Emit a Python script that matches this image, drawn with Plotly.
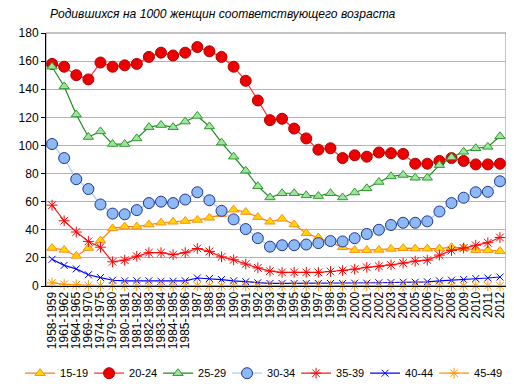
import plotly.graph_objects as go

categories = ["1958-1959", "1961-1962", "1964-1965", "1969-1970", "1974-1975", "1979-1980",
              "1980-1981", "1981-1982", "1982-1983", "1983-1984", "1984-1985", "1985-1986"] + \
             [str(y) for y in range(1987, 2013)]

s15_19 = [27, 25.7, 21.4, 27, 32.4, 41, 42.3, 42.3, 43.7, 45, 45.7, 46.2, 47, 48.5, 51, 54.3, 52.6, 49,
          45.7, 47.8, 43.7, 37.5, 34.5, 31, 27.6, 25.5, 25.5, 25.7, 26.4, 26.9, 26.6, 26.6, 26.6, 27.6,
          27, 25.5, 25.5, 24.8]
s20_24 = [158, 156, 150, 147, 159, 156, 157, 158, 163, 166, 164, 166, 170, 167, 163, 156, 146, 132,
          118, 119, 112, 105, 97, 98, 91, 93, 92, 95, 94.5, 94, 87, 87, 89, 91, 89, 86.5, 86.5, 87]
s25_29 = [156, 142, 122, 106, 110, 101, 101, 105, 113, 114.5, 113, 117, 121, 113.5, 102, 92, 82, 71,
          63, 66, 66, 64.5, 64, 66, 63, 66.5, 69.5, 74, 78, 79, 77, 77, 86, 91.5, 95.5, 98, 99, 106.5]
s30_34 = [101, 91, 76, 69, 58, 51.5, 51, 54, 59, 60, 59, 61.5, 66.7, 61, 53.5, 47.4, 40.5, 34, 28,
          29, 29, 29.5, 30.5, 32, 31.7, 34, 37, 40, 43.4, 45, 45, 46, 53, 59, 62.8, 66.7, 67, 74.5]
s35_39 = [57.5, 46.4, 38.4, 31.7, 27.6, 17.2, 18.4, 21.2, 23.7, 23.7, 22.3, 23.7, 26.7, 24.6, 20.7,
          18.6, 15.6, 12.9, 10.6, 9.7, 9.7, 9.7, 9.7, 10.3, 11, 12, 13.3, 14, 15, 16.3, 17.7, 18.4,
          22, 25.3, 27, 29, 30.8, 34.5]
s40_44 = [19, 14.7, 12.2, 8, 6, 4.1, 3.7, 3.7, 3.7, 3.4, 3.4, 3.7, 5.7, 5.3, 4.6, 3.7, 3, 2.3, 1.8,
          1.8, 1.8, 1.8, 1.8, 1.8, 1.8, 2, 2, 2.3, 2.5, 2.7, 2.7, 3, 3.7, 4.1, 4.6, 5.3, 5.7, 6.4]
s45_49 = [2.3, 1.2, 0.9, 0.4, 0.3, 0.2, 0.2, 0.2, 0.2, 0.2, 0.2, 0.2, 0.2, 0.2, 0.2, 0.2, 0.2, 0.2,
          0.2, 0.2, 0.2, 0.2, 0.2, 0.2, 0.2, 0.2, 0.2, 0.2, 0.2, 0.2, 0.2, 0.2, 0.2, 0.2, 0.2, 0.2,
          0.2, 0.2]

y_ticks = [0, 20, 40, 60, 80, 100, 120, 140, 160, 180]

series = [
    ("15-19", s15_19, dict(line=dict(color="#FF7A1A", width=1.2),
                           marker=dict(symbol="triangle-up", size=9, color="#FFD700",
                                       line=dict(color="#FF8C1A", width=1)))),
    ("20-24", s20_24, dict(line=dict(color="#FF3030", width=1.2),
                           marker=dict(symbol="circle", size=11, color="#EE0000",
                                       line=dict(color="#B00000", width=1)))),
    ("25-29", s25_29, dict(line=dict(color="#1E8C1E", width=1.2),
                           marker=dict(symbol="triangle-up", size=9, color="#9FE39F",
                                       line=dict(color="#2E9A2E", width=1)))),
    ("30-34", s30_34, dict(line=dict(color="#A9CFF5", width=1.2),
                           marker=dict(symbol="circle", size=11, color="#8DB9F5",
                                       line=dict(color="#1F3590", width=1)))),
    ("35-39", s35_39, dict(line=dict(color="#FF1A1A", width=1.2),
                           marker=dict(symbol="asterisk-open", size=9, color="#FF0000",
                                       line=dict(color="#FF0000", width=1)))),
    ("40-44", s40_44, dict(line=dict(color="#0000FF", width=1.2),
                           marker=dict(symbol="x-thin-open", size=7, color="#0000FF",
                                       line=dict(color="#0000FF", width=1)))),
    ("45-49", s45_49, dict(line=dict(color="#FF9900", width=1.2),
                           marker=dict(symbol="asterisk-open", size=9, color="#FF9900",
                                       line=dict(color="#FF9900", width=1)))),
]

fig = go.Figure()
for name, vals, style in series:
    fig.add_trace(go.Scatter(x=categories, y=vals, name=name, mode="lines+markers",
                             cliponaxis=False, **style))

L, R, T, B = 37, 16, 25, 106
pw, ph = 514 - L - R, 392 - T - B

fig.update_layout(
    width=514, height=392,
    margin=dict(l=L, r=R, t=T, b=B),
    paper_bgcolor="white", plot_bgcolor="white",
    font=dict(family="Liberation Sans, Arial", size=11, color="black"),
    title=dict(text="<i>Родившихся на 1000 женщин соответствующего возраста</i>",
               x=42 / 514, xanchor="left", y=1 - 6 / 392, yanchor="middle",
               font=dict(size=12.1, color="black")),
    showlegend=True,
    legend=dict(orientation="h", xref="paper", yref="paper",
                x=(11 - L) / pw, xanchor="left", y=-(361 - T - ph) / ph, yanchor="top",
                font=dict(size=11), entrywidth=24, entrywidthmode="pixels",
                itemwidth=30, tracegroupgap=0, bgcolor="rgba(0,0,0,0)"),
    shapes=[dict(type="rect", xref="paper", yref="paper", x0=0, x1=1, y0=0, y1=1,
                 line=dict(color="#888888", width=1), layer="below")],
)
fig.update_xaxes(type="category", showline=True, linecolor="black", linewidth=1,
                 tickangle=-90, tickfont=dict(size=12), showgrid=False, ticks="",
                 tickmode="linear", dtick=1,
                 range=[-0.5, len(categories) - 0.5])
fig.update_yaxes(range=[0, 180], tickvals=y_ticks, showline=True, linecolor="black", linewidth=1,
                 showgrid=True, gridcolor="#B3B3B3", gridwidth=1, ticks="outside", ticklen=4,
                 tickcolor="black", tickfont=dict(size=12), zeroline=False)

fig.write_html("out.html")
